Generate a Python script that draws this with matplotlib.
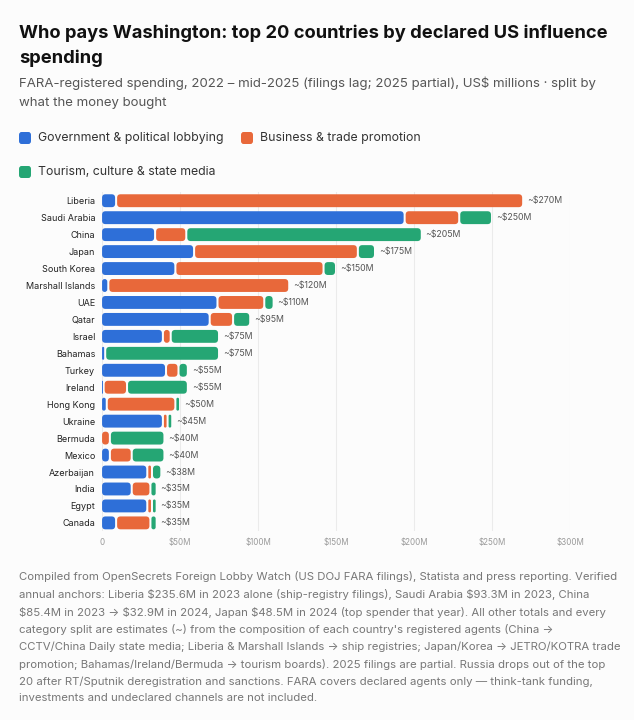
import matplotlib
matplotlib.use("Agg")
import matplotlib.pyplot as plt
from matplotlib.patches import FancyBboxPatch

plt.rcParams['font.family'] = ['Inter', 'DejaVu Sans']

# data (US$ millions)
countries = ['Liberia', 'Saudi Arabia', 'China', 'Japan', 'South Korea', 'Marshall Islands',
             'UAE', 'Qatar', 'Israel', 'Bahamas', 'Turkey', 'Ireland', 'Hong Kong', 'Ukraine',
             'Bermuda', 'Mexico', 'Azerbaijan', 'India', 'Egypt', 'Canada']
gov = [9, 194, 34, 59, 47, 4, 74, 69, 39, 2, 41, 1, 3, 39, 0, 5, 29, 19, 29, 9]
business = [261, 35, 20, 105, 95, 116, 30, 15, 5, 0, 8, 15, 44, 3, 5, 14, 3, 12, 3, 22]
tourism = [0, 21, 151, 11, 8, 0, 6, 11, 31, 73, 6, 39, 3, 3, 35, 21, 6, 4, 3, 4]
total_labels = ['~$270M', '~$250M', '~$205M', '~$175M', '~$150M', '~$120M', '~$110M', '~$95M',
                '~$75M', '~$75M', '~$55M', '~$55M', '~$50M', '~$45M', '~$40M', '~$40M',
                '~$38M', '~$35M', '~$35M', '~$35M']
series_names = ['Government & political lobbying', 'Business & trade promotion',
                'Tourism, culture & state media']
colors = ['#2e6fd8', '#e8683a', '#25a674']
xticks = [0, 50, 100, 150, 200, 250, 300]
xtick_labels = ['0', '$50M', '$100M', '$150M', '$200M', '$250M', '$300M']

bg = '#fcfcfc'
W, H = 634, 720
fig = plt.figure(figsize=(W / 100, H / 100), dpi=100, facecolor=bg)
ax = fig.add_axes([0.161, 0.262, 0.738, 0.471], facecolor=bg)

ax.set_xlim(0, 300)
ax.set_ylim(len(countries) - 0.5, -0.5)

bar_h = 0.76
gap = 1.3  # M units of white gap between segments
# rounding: x in M units, aspect correction so corners look round in pixels
px_per_x = 0.738 * W / 300
px_per_y = 0.471 * H / len(countries)
aspect = px_per_x / px_per_y

for i, name in enumerate(countries):
    left = 0
    for vals, col in zip([gov, business, tourism], colors):
        w = vals[i]
        if w <= 0:
            continue
        x0 = left + (gap / 2 if left > 0 else 0)
        ww = w - (gap / 2 if left > 0 else 0) - gap / 2
        if ww < 0.6:
            ww = 0.6
        r = min(2.2, ww / 2, bar_h / 2 / aspect)
        p = FancyBboxPatch((x0, i - bar_h / 2), ww, bar_h,
                           boxstyle=f"round,pad=0,rounding_size={r}",
                           mutation_aspect=aspect, facecolor=col, edgecolor='none', zorder=3)
        ax.add_patch(p)
        left += w
    ax.text(left + 2.5, i, total_labels[i], va='center', ha='left', fontsize=6.3, color='#555555')

ax.set_yticks(range(len(countries)))
ax.set_yticklabels(countries, fontsize=6.5, color='#222222')
ax.set_xticks(xticks)
ax.set_xticklabels(xtick_labels, fontsize=5.8, color='#9a9a9a')
ax.tick_params(length=0, pad=5)
ax.tick_params(axis='x', pad=5)
ax.grid(axis='x', color='#ebebeb', linewidth=0.8, zorder=0)
for s in ax.spines.values():
    s.set_visible(False)

# title / subtitle
fig.text(19 / W, 1 - 24 / H, 'Who pays Washington: top 20 countries by declared US influence\nspending',
         fontsize=13.2, fontweight='bold', color='#111111', va='top', linespacing=1.62)
fig.text(19 / W, 1 - 76 / H,
         'FARA-registered spending, 2022 – mid-2025 (filings lag; 2025 partial), US$ millions · split by\nwhat the money bought',
         fontsize=9.5, color='#555555', va='top', linespacing=1.78, parse_math=False)

# legend
leg_pos = [(19, 138), (241, 138), (19, 172)]
for (lx, ly), name, col in zip(leg_pos, series_names, colors):
    fig.patches.append(FancyBboxPatch((lx / W, 1 - (ly + 6) / H), 12 / W, 12 / H,
                                      boxstyle="round,pad=0,rounding_size=0.004",
                                      transform=fig.transFigure, facecolor=col, edgecolor='none'))
    fig.text((lx + 19) / W, 1 - ly / H, name, fontsize=8.85, color='#333333', va='center')

note = ("Compiled from OpenSecrets Foreign Lobby Watch (US DOJ FARA filings), Statista and press reporting. Verified\n"
        "annual anchors: Liberia $235.6M in 2023 alone (ship-registry filings), Saudi Arabia $93.3M in 2023, China\n"
        "$85.4M in 2023 → $32.9M in 2024, Japan $48.5M in 2024 (top spender that year). All other totals and every\n"
        "category split are estimates (~) from the composition of each country's registered agents (China →\n"
        "CCTV/China Daily state media; Liberia & Marshall Islands → ship registries; Japan/Korea → JETRO/KOTRA trade\n"
        "promotion; Bahamas/Ireland/Bermuda → tourism boards). 2025 filings are partial. Russia drops out of the top\n"
        "20 after RT/Sputnik deregistration and sanctions. FARA covers declared agents only — think-tank funding,\n"
        "investments and undeclared channels are not included.")
fig.text(19 / W, 1 - 571 / H, note, fontsize=8.2, color='#777777', va='top', linespacing=1.75,
         parse_math=False)

fig.savefig('out.png', dpi=100, facecolor=bg)
